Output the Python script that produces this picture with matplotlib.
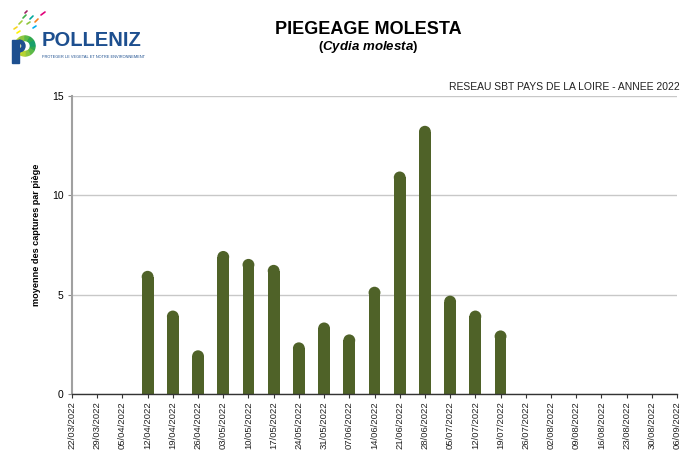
import numpy as np
import matplotlib
matplotlib.use("Agg")
import matplotlib.pyplot as plt
from matplotlib.patches import Ellipse, Wedge, Rectangle, Circle

plt.rcParams['font.family'] = ['Liberation Sans', 'DejaVu Sans']
plt.rcParams['mathtext.fontset'] = 'custom'
plt.rcParams['mathtext.it'] = 'Liberation Sans:italic:bold'
plt.rcParams['mathtext.rm'] = 'Liberation Sans:bold'

dates = ["22/03/2022", "29/03/2022", "05/04/2022", "12/04/2022", "19/04/2022",
         "26/04/2022", "03/05/2022", "10/05/2022", "17/05/2022", "24/05/2022",
         "31/05/2022", "07/06/2022", "14/06/2022", "21/06/2022", "28/06/2022",
         "05/07/2022", "12/07/2022", "19/07/2022", "26/07/2022", "02/08/2022",
         "09/08/2022", "16/08/2022", "23/08/2022", "30/08/2022", "06/09/2022"]
captures = [None, None, None, 6.2, 4.2, 2.2, 7.2, 6.8, 6.5, 2.6, 3.6, 3.0, 5.4,
            11.2, 13.5, 4.95, 4.2, 3.2, None, None, None, None, None, None, None]
yticks = [0, 5, 10, 15]

title = "PIEGEAGE MOLESTA"
network = "RESEAU SBT PAYS DE LA LOIRE - ANNEE 2022"
ylabel = "moyenne des captures par piège"

bar_color = "#4f6228"

fig = plt.figure(figsize=(6.92, 4.5), dpi=100)
ax = fig.add_axes([72/692, 1-394/450, (677-72)/692, (394-96)/450])

x = np.arange(len(dates))
vals = np.array([np.nan if v is None else v for v in captures], dtype=float)
ax.set_xlim(0, len(dates)-1)
ax.set_ylim(0, 15)

ax.set_yticks(yticks)
ax.yaxis.grid(True, color="#c8c8c8", linewidth=1.0)
ax.set_axisbelow(True)

mask = ~np.isnan(vals)
bars = ax.bar(x[mask], vals[mask], width=0.47, color=bar_color, zorder=3)

# round tops: shorten each bar by the cap radius and add a half-ellipse cap
fig.canvas.draw()
inv = ax.transData.inverted()
p0 = inv.transform((0, 0)); p1 = inv.transform((1, 1))
aspect = (p1[1]-p0[1])/(p1[0]-p0[0])
for r in bars:
    x0, w, h = r.get_x(), r.get_width(), r.get_height()
    ry = w/2*aspect
    r.set_height(h-ry)
    ax.add_patch(Ellipse((x0+w/2, h-ry), w, 2*ry, facecolor=bar_color,
                         edgecolor="none", zorder=3))

ax.set_xticks(x)
ax.set_xticklabels(dates, rotation=90, fontsize=6.8, color="#222222")
ax.tick_params(axis='x', length=3, width=0.8, color="#333333", pad=2)
ax.tick_params(axis='y', length=3, width=0.8, color="#888888", labelsize=7.5, pad=3)
for s in ["top", "right"]:
    ax.spines[s].set_visible(False)
ax.spines["left"].set_color("#a0a0a0")
ax.spines["left"].set_linewidth(1.5)
ax.spines["bottom"].set_color("#333333")
ax.spines["bottom"].set_linewidth(1.0)
ax.spines["bottom"].set_zorder(4)

ax.set_ylabel(ylabel, fontsize=6.6, fontweight="bold")
ax.yaxis.set_label_coords(-0.052, 0.535)

# titles
fig.text(368/692, 1-30/450, title, ha="center", va="center", fontsize=13, fontweight="bold")
fig.text(368/692, 1-47/450, r"($\it{Cydia\ molesta}$)", ha="center", va="center",
         fontsize=9.5, fontweight="bold")
fig.text(680/692, 1-87/450, network, ha="right", va="center", fontsize=7.5, color="#222222")

# logo
blue = "#1d4f8f"
fig.text(42/692, 1-40/450, "POLLENIZ", ha="left", va="center", fontsize=14.5,
         fontweight="bold", color=blue)
fig.text(42/692, 1-57/450, "PROTEGER LE VEGETAL ET NOTRE ENVIRONNEMENT", ha="left",
         va="center", fontsize=2.8, color=blue)
lax = fig.add_axes([0, 1-70/450, 60/692, 70/450])
lax.set_xlim(0, 60); lax.set_ylim(70, 0); lax.axis("off")
cols = ["#f7d51d", "#a6ce39", "#3fae49", "#00a99d", "#f58220", "#e2007a",
        "#8dc63f", "#fff200", "#00aeef", "#9e1f63"]
segs = [((14, 29), (17, 27)), ((19, 24), (22, 21)), ((23, 18), (26, 15)), ((30, 19), (33, 16)),
        ((35, 22), (38, 19)), ((41, 15), (45, 12)), ((27, 24), (30, 22)), ((17, 33), (20, 31)),
        ((33, 28), (36, 26)), ((25, 13), (27, 11))]
for (a, b), c in zip(segs, cols):
    lax.plot([a[0], b[0]], [a[1], b[1]], color=c, linewidth=1.2, solid_capstyle="round")
ring_cols = ["#2fa84f", "#5cb947", "#8dc63f", "#b5d334", "#d9df2a", "#f2e32b",
             "#d9df2a", "#b5d334", "#8dc63f", "#5cb947", "#2fa84f", "#18a06b"]
n = len(ring_cols)
for i, c in enumerate(ring_cols):
    lax.add_patch(Wedge((25, 46), 10, 360*i/n, 360*(i+1)/n, width=6, color=c))
lax.add_patch(Circle((25, 46), 4, color="white"))
lax.add_patch(Rectangle((12, 40), 7, 23, color=blue))
lax.add_patch(Wedge((19, 46), 6, 270, 90, width=3, color=blue))

fig.savefig("out.png", dpi=100)
